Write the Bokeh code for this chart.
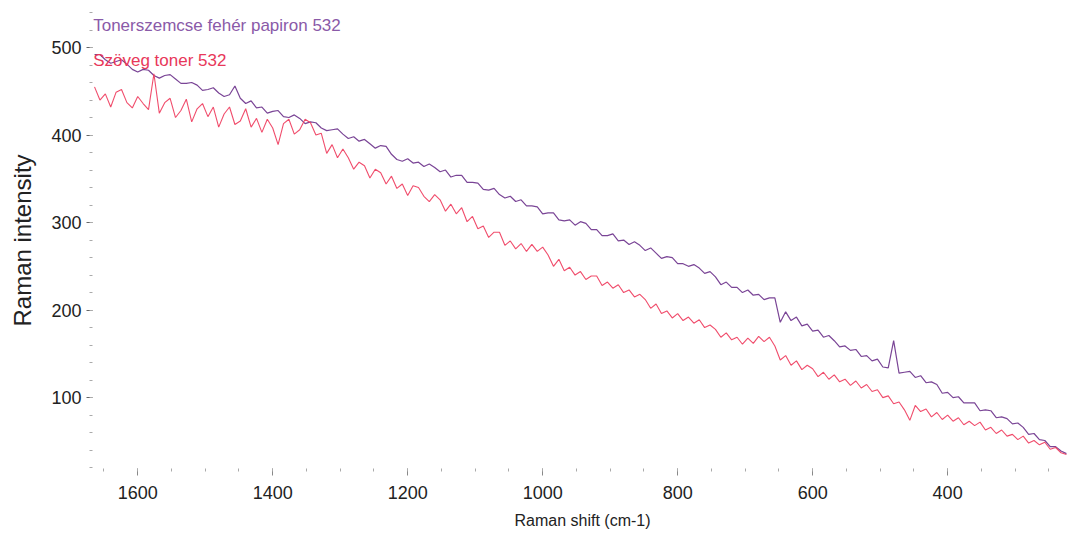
from bokeh.plotting import figure
from bokeh.models import Range1d, SingleIntervalTicker, Label
from bokeh.embed import file_html
from bokeh.resources import INLINE

# Raman shift grid (cm-1), every 8 cm-1 from 1664 down to 224
shift = list(range(1664, 223, -8))

# "Tonerszemcse fehér papiron 532"
toner_paper = [
    492, 492, 486, 482, 484, 486, 481, 475, 472, 475,
    474, 468, 465, 468, 469, 464, 459, 459, 460, 457,
    451, 452, 454, 448, 444, 446, 456, 442, 436, 439,
    431, 432, 425, 427, 428, 421, 420, 423, 419, 413,
    415, 414, 408, 405, 406, 407, 401, 396, 398, 393,
    395, 390, 385, 388, 387, 378, 372, 370, 373, 368,
    369, 364, 367, 363, 358, 360, 352, 354, 354, 346,
    346, 345, 338, 337, 339, 332, 328, 330, 324, 326,
    319, 319, 318, 310, 311, 311, 303, 302, 303, 297,
    301, 299, 292, 292, 285, 285, 287, 279, 280, 275,
    278, 274, 268, 271, 265, 259, 261, 260, 253, 253,
    250, 252, 248, 242, 244, 238, 229, 232, 226, 226,
    220, 223, 217, 218, 212, 214, 214, 186, 198, 188,
    192, 182, 184, 176, 177, 169, 171, 165, 158, 159,
    154, 155, 147, 148, 142, 144, 135, 134, 165, 128,
    129, 130, 123, 125, 117, 118, 115, 105, 106, 100,
    101, 94, 94, 94, 85, 86, 85, 77, 78, 76,
    70, 71, 66, 58, 59, 52, 51, 44, 44, 39,
    36,
]

# "Szöveg toner 532"
text_toner = [
    455, 440, 447, 432, 449, 452, 437, 431, 444, 436,
    429, 470, 425, 437, 442, 420, 428, 441, 415, 430,
    436, 421, 432, 409, 424, 432, 412, 416, 430, 409,
    419, 403, 418, 408, 389, 413, 418, 401, 406, 418,
    414, 400, 402, 379, 389, 374, 384, 374, 361, 369,
    365, 351, 361, 357, 344, 353, 339, 344, 331, 342,
    340, 330, 324, 332, 326, 313, 321, 310, 317, 301,
    307, 293, 296, 283, 289, 289, 274, 279, 270, 276,
    267, 275, 267, 272, 263, 250, 258, 245, 249, 240,
    244, 235, 239, 239, 228, 232, 225, 229, 220, 223,
    215, 218, 212, 202, 207, 196, 199, 191, 196, 188,
    192, 185, 189, 180, 183, 178, 169, 174, 166, 169,
    161, 168, 162, 170, 164, 169, 159, 143, 148, 137,
    142, 132, 137, 133, 124, 129, 121, 126, 118, 121,
    114, 119, 111, 115, 107, 109, 100, 102, 93, 95,
    86, 74, 91, 84, 87, 78, 83, 75, 80, 73,
    77, 69, 73, 68, 72, 63, 66, 59, 63, 56,
    58, 52, 56, 48, 51, 46, 49, 41, 43, 37,
    35,
]

series_names = ["Tonerszemcse fehér papiron 532", "Szöveg toner 532"]
series_colors = ["#7a4596", "#ee3a5c"]
label_colors = ["#8a5aa8", "#e8385a"]

FONT = "Liberation Sans"

p = figure(width=1072, height=552, output_backend="svg", toolbar_location=None,
           x_range=Range1d(1667, 215), y_range=Range1d(19, 540),
           min_border_left=92, min_border_right=0, min_border_top=12,
           min_border_bottom=84)
p.outline_line_color = None
p.xgrid.grid_line_color = None
p.ygrid.grid_line_color = None
p.background_fill_color = "white"
p.border_fill_color = "white"

p.line(shift, toner_paper, line_color=series_colors[0], line_width=1.2)
p.line(shift, text_toner, line_color=series_colors[1], line_width=1.1, line_alpha=0.9)

xa = p.xaxis[0]
xa.ticker = SingleIntervalTicker(interval=200, num_minor_ticks=4)
xa.axis_line_color = None
xa.major_tick_in = 0
xa.major_tick_out = 7
xa.minor_tick_in = 0
xa.minor_tick_out = 3
xa.major_tick_line_color = "#888888"
xa.minor_tick_line_color = "#aaaaaa"
xa.major_label_standoff = 10
xa.major_label_text_font = FONT
xa.major_label_text_font_size = "18px"
xa.major_label_text_color = "#222222"
xa.axis_label = "Raman shift (cm-1)"
xa.axis_label_text_font = FONT
xa.axis_label_text_font_size = "16px"
xa.axis_label_text_font_style = "normal"
xa.axis_label_text_color = "#222222"
xa.axis_label_standoff = 10

ya = p.yaxis[0]
ya.ticker = SingleIntervalTicker(interval=100, num_minor_ticks=5)
ya.axis_line_color = None
ya.major_tick_in = 0
ya.major_tick_out = 6
ya.minor_tick_in = 0
ya.minor_tick_out = 3
ya.major_tick_line_color = "#666666"
ya.minor_tick_line_color = "#aaaaaa"
ya.major_label_standoff = 5
ya.major_label_text_font = FONT
ya.major_label_text_font_size = "18px"
ya.major_label_text_color = "#222222"
ya.axis_label = "Raman intensity"
ya.axis_label_text_font = FONT
ya.axis_label_text_font_size = "24px"
ya.axis_label_text_font_style = "normal"
ya.axis_label_text_color = "#222222"
ya.axis_label_standoff = 12

label_y = [525, 485]
for name, col, ly in zip(series_names, label_colors, label_y):
    p.add_layout(Label(x=1666, y=ly, text=name, text_color=col,
                       text_font=FONT, text_font_size="17px",
                       text_baseline="middle", text_align="left"))

open("out.html", "w").write(file_html(p, INLINE))
